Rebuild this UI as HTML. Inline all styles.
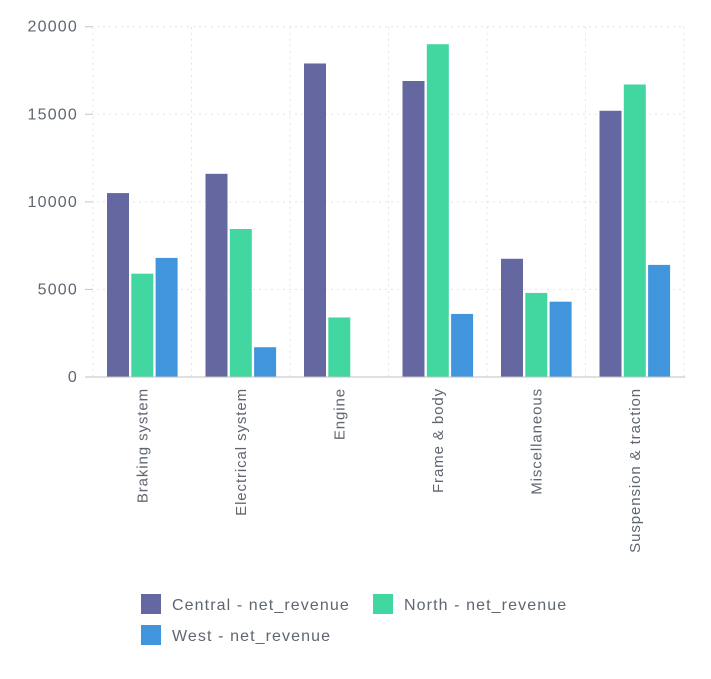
<!DOCTYPE html>
<html><head><meta charset="utf-8"><style>
body{margin:0;background:#fff;font-family:"Liberation Sans",sans-serif;}
svg text{font-family:"Liberation Sans",sans-serif;fill:#5f6670;}
</style></head><body>
<svg id="chart" width="711" height="674" xmlns="http://www.w3.org/2000/svg"></svg>
<script>
const categories=["Braking system","Electrical system","Engine","Frame & body","Miscellaneous","Suspension & traction"];
const central=[10500,11600,17900,16900,6750,15200];
const north=[5900,8450,3400,19000,4800,16700];
const west=[6800,1700,0,3600,4300,6400];
const yTicks=[0,5000,10000,15000,20000];
const seriesNames=["Central - net_revenue","North - net_revenue","West - net_revenue"];
const colors=["#6467a0","#42d7a1","#4195dd"];
const svg=document.getElementById('chart');
const NS="http://www.w3.org/2000/svg";
const x0=93,bandW=98.5,yBase=377,yTop=26.7,yMax=20000;
const y=v=>yBase-(v/yMax)*(yBase-yTop);
const bx=i=>x0+i*bandW;
function mk(t,a){const e=document.createElementNS(NS,t);for(const k in a)e.setAttribute(k,a[k]);svg.appendChild(e);return e;}
yTicks.forEach(t=>{
  if(t>0){const g=mk('line',{x1:85,x2:685,y1:y(t),y2:y(t),stroke:'#e3e3e3','stroke-dasharray':'2,4'});
  
  }
  const tk=mk('line',{x1:85,x2:93,y1:y(t),y2:y(t),stroke:'#c8c8c8'});
  
  
  const tx=mk('text',{x:78,y:y(t)+5,'text-anchor':'end','font-size':16,'letter-spacing':1.2});
  tx.textContent=t;
  
  
});
for(let i=0;i<=categories.length;i++){
  const g=mk('line',{x1:bx(i),x2:bx(i),y1:yTop,y2:yBase,stroke:'#e3e3e3','stroke-dasharray':'2,4'});
  
  
}
const series=[central,north,west];
categories.forEach((c,i)=>{
  series.forEach((s,j)=>{
    const left=bx(i)+14+j*24.3;
    const r=mk('rect',{x:left,y:y(s[i]),width:22,height:yBase-y(s[i]),fill:colors[j]});
    
    
  });
  const cx=bx(i)+bandW/2;
  const t=mk('text',{x:0,y:0,'text-anchor':'end','font-size':15,'letter-spacing':0.9,transform:`translate(${cx+5},388) rotate(-90)`});
  t.textContent=c;
  
  
});
const ax=mk('line',{x1:85,x2:685,y1:yBase,y2:yBase,stroke:'#c0c0c0'});


const legPos=[[141,594],[373,594],[141,625]];
seriesNames.forEach((n,j)=>{
  const [lx,ly]=legPos[j];
  const r=mk('rect',{x:lx,y:ly,width:20,height:20,fill:colors[j]});
  
  
  const t=mk('text',{x:lx+31,y:ly+16,'font-size':16,'letter-spacing':1.1});
  t.textContent=n;
  
  
});
</script>
</body></html>
